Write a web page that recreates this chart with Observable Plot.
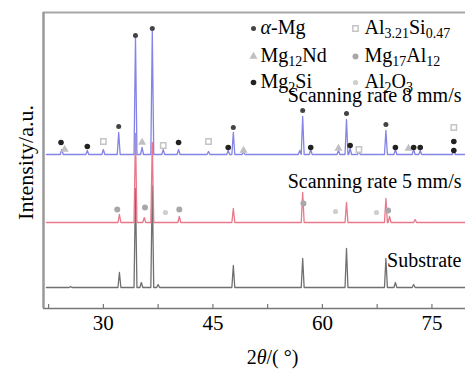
<!DOCTYPE html>
<html>
<head>
<meta charset="utf-8">
<script src="https://cdn.jsdelivr.net/npm/d3@7"></script>
<script src="https://cdn.jsdelivr.net/npm/@observablehq/plot@0.6"></script>
<style>
  html, body { margin: 0; padding: 0; background: white; }
</style>
</head>
<body>
<div id="chart"></div>
<script>
// ---- data (2θ in degrees, intensity in arbitrary units above each pattern's baseline) ----
const xTicks = [30, 45, 60, 75];
const xMinorTicks = [22.5, 37.5, 52.5, 67.5];
const xDomain = [21.8, 79.6];
const yDomain = [0, 296];
const scanRange = [22.2, 79.6];

const seriesNames = ["Substrate", "Scanning rate 5 mm/s", "Scanning rate 8 mm/s"];
const seriesOffsets = [21, 86, 154];
const seriesColors = ["#707070", "#e9788a", "#8484e6"];

const peaksSubstrate = [[25.5,1],[32.2,15],[34.4,99],[35.2,5],[36.7,102],[37.5,3],[47.8,22],[57.3,29],[63.3,39],[68.7,29],[70.0,5],[72.5,3]];
const peaksRate5 = [[32.2,8],[34.4,89],[35.6,5],[36.7,80],[40.4,6],[47.8,14],[57.3,30],[63.3,20],[68.7,24],[69.2,6],[72.7,3]];
const peaksRate8 = [[24.3,5],[27.8,4],[30.0,5],[32.1,22],[34.4,117],[35.3,7],[36.7,123],[38.2,5],[40.3,5],[44.4,3],[47.1,4],[47.8,22],[49.2,3],[56.9,4],[57.3,38],[58.4,5],[62.2,4],[63.3,35],[63.8,6],[65.0,3],[68.7,24],[70.0,5],[72.5,5],[73.4,4],[78.0,6]];

const phaseNames = ["*α*-Mg", "Al_{3.21}Si_{0.47}", "Mg_{12}Nd", "Mg_{17}Al_{12}", "Mg_{2}Si", "Al_{2}O_{3}"];
// phase markers on the patterns: [series index, 2θ, height above baseline]
const markAlphaMg = [[2,32.1,28],[2,34.4,119],[2,36.7,126],[2,47.8,27],[2,57.3,44],[2,63.3,41],[2,68.7,30]];
const markAl321Si = [[2,30.0,13],[2,38.2,9],[2,44.4,13],[2,65.0,5],[2,78.0,27]];
const markMg12Nd = [[2,24.7,5],[2,35.3,12],[2,49.2,4],[2,62.2,6],[2,71.8,6]];
const markMg17Al12 = [[1,31.9,13],[1,35.7,15],[1,40.4,13],[1,57.4,19],[1,69.0,12]];
const markMg2Si = [[2,24.2,12],[2,27.8,8],[2,40.3,12],[2,47.1,7],[2,58.4,7],[2,63.8,9],[2,70.0,7],[2,72.5,7],[2,73.4,7],[2,78.0,13],[2,78.0,4]];
const markAl2O3 = [[1,38.5,10],[1,61.8,11],[1,67.4,10]];

// ---- build tables ----
const peakHalfWidth = 0.2;
function profile(peaks, offset, name) {
  const pts = [{t: scanRange[0], v: offset, name}];
  for (const [p, h] of peaks) {
    pts.push({t: p - peakHalfWidth, v: offset, name});
    pts.push({t: p, v: offset + h, name});
    pts.push({t: p + peakHalfWidth, v: offset, name});
  }
  pts.push({t: scanRange[1], v: offset, name});
  return pts;
}
const allPeaks = [peaksSubstrate, peaksRate5, peaksRate8];
const lines = allPeaks.map((pk, i) => profile(pk, seriesOffsets[i], seriesNames[i]));
const toMarks = arr => arr.map(([s, t, h]) => ({t, v: seriesOffsets[s] + h}));

const FONT = "'Liberation Serif', 'Times New Roman', serif";
const phaseStyles = [
  {symbol: "circle", fill: "#444", stroke: "none", r: 2.5},
  {symbol: "square", fill: "white", stroke: "#c4c4c4", r: 3},
  {symbol: "triangle", fill: "#c0c0c0", stroke: "none", r: 3},
  {symbol: "circle", fill: "#a8a8a8", stroke: "none", r: 3},
  {symbol: "circle", fill: "#222", stroke: "none", r: 2.8},
  {symbol: "circle", fill: "#cfcfcf", stroke: "none", r: 2.6}
];
const phaseMarks = [markAlphaMg, markAl321Si, markMg12Nd, markMg17Al12, markMg2Si, markAl2O3];

// legend layout (2 columns x 3 rows)
const legendCols = [{dot: 210, text: 217}, {dot: 312, text: 321}];
const legendRowDy = [21, 49, 75];

const marks = [];
// frame
marks.push(Plot.ruleY([yDomain[1]], {stroke: "#a8a8a8", strokeWidth: 2}));
marks.push(Plot.ruleY([yDomain[0]], {stroke: "#777", strokeWidth: 1.5}));
marks.push(Plot.ruleX([xDomain[0]], {stroke: "#999", strokeWidth: 2.5}));
marks.push(Plot.tickX([...xTicks, ...xMinorTicks], {x: d => d, stroke: "#777", strokeWidth: 1.2, insetTop: 292}));
marks.push(Plot.axisX(xTicks, {tickSize: 0, tickPadding: 7, fontSize: 21, fontFamily: FONT, label: null}));

// patterns
lines.forEach((pts, i) => {
  marks.push(Plot.line(pts, {x: "t", y: "v", stroke: seriesColors[i], strokeWidth: 1.3}));
});
// phase markers
phaseMarks.forEach((arr, i) => {
  const st = phaseStyles[i];
  marks.push(Plot.dot(toMarks(arr), {x: "t", y: "v", symbol: st.symbol, fill: st.fill, stroke: st.stroke, r: st.r}));
});

// legend
phaseNames.forEach((name, i) => {
  const col = legendCols[i % 2], row = Math.floor(i / 2), st = phaseStyles[i];
  marks.push(Plot.dot([name], {frameAnchor: "top-left", dx: col.dot, dy: legendRowDy[row] - 5, symbol: st.symbol, fill: st.fill, stroke: st.stroke, r: st.r}));
  marks.push(Plot.text([name], {text: d => d, frameAnchor: "top-left", dx: col.text, dy: legendRowDy[row], textAnchor: "start", lineAnchor: "bottom", fontSize: 20, fontFamily: FONT, fill: "black"}));
});

// series labels
const labelDy = [254, 175, 89];
seriesNames.forEach((name, i) => {
  marks.push(Plot.text([name], {text: d => d, frameAnchor: "top-right", dx: -4, dy: labelDy[i], textAnchor: "end", lineAnchor: "bottom", fontSize: 20, fontFamily: FONT, fill: "black"}));
});

// axis titles
marks.push(Plot.text(["Intensity/a.u."], {text: d => d, frameAnchor: "left", dx: -11, dy: 2, rotate: -90, textAnchor: "middle", lineAnchor: "bottom", fontSize: 22, fontFamily: FONT, fill: "black"}));
marks.push(Plot.text(["2*θ*/( °)"], {text: d => d, frameAnchor: "bottom", dx: 18, dy: 55, textAnchor: "middle", lineAnchor: "bottom", fontSize: 20, fontFamily: FONT, fill: "black"}));

const chart = Plot.plot({
  width: 465,
  height: 369,
  marginLeft: 43,
  marginRight: 0,
  marginTop: 12,
  marginBottom: 61,
  x: {domain: xDomain},
  y: {domain: yDomain, axis: null},
  style: {fontFamily: FONT, fontSize: "20px", background: "white", color: "black"},
  marks
});

// rich text: _{..} subscripts and *..* italics
d3.select(chart).selectAll("text").each(function () {
  const s = this.textContent;
  if (!/_\{|\*/.test(s)) return;
  const el = d3.select(this);
  const parts = s.split(/(_\{[^}]*\}|\*[^*]*\*)/).filter(p => p);
  el.text(null);
  let down = false;
  for (const p of parts) {
    if (p.startsWith("_{")) {
      el.append("tspan").attr("font-size", "14px").attr("dy", down ? null : 4).text(p.slice(2, -1));
      down = true;
    } else {
      const t = el.append("tspan").attr("dy", down ? -4 : null);
      down = false;
      if (p.startsWith("*")) t.attr("font-style", "italic").text(p.slice(1, -1));
      else t.text(p);
    }
  }
});

document.getElementById("chart").appendChild(chart);
</script>
</body>
</html>
